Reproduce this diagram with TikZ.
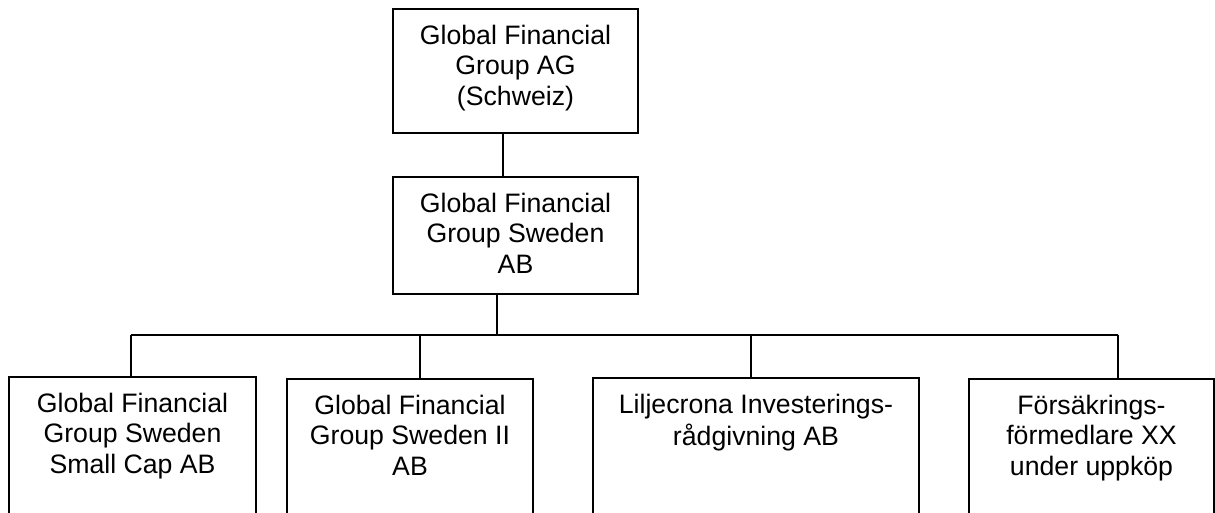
\documentclass[tikz,border=0pt]{standalone}
\usepackage{fontspec}
\setmainfont{Liberation Sans}
\begin{document}
\begin{tikzpicture}[x=0.75pt,y=-0.75pt,
  orgbox/.style={draw=black,line width=0.8pt,rectangle,inner sep=0pt,fill=none},
  lbl/.style={anchor=north,inner sep=0pt,align=center,font=\fontsize{20}{23}\selectfont},
  conn/.style={draw=black,line width=1.6pt}]
\clip (0,0) rectangle (1215,513);
% boxes
\node[orgbox,minimum width=183.75pt,minimum height=93pt] (top) at (515.5,71) {};
\node[orgbox,minimum width=183.75pt,minimum height=87.75pt] (mid) at (515.5,235.5) {};
\node[orgbox,minimum width=185.25pt,minimum height=114.75pt] (b1) at (132.5,453.5) {};
\node[orgbox,minimum width=184.5pt,minimum height=113.25pt] (b2) at (410,454.5) {};
\node[orgbox,minimum width=244.5pt,minimum height=114pt] (b3) at (756,454) {};
\node[orgbox,minimum width=183.75pt,minimum height=113.25pt] (b4) at (1091.5,454.5) {};
% labels
\node[lbl] (t0) at ([yshift=-10.5pt]top.north) {\strut Global Financial\\Group AG\\(Schweiz)};
\node[lbl] (tm) at ([yshift=-10.5pt]mid.north) {\strut Global Financial\\Group Sweden\\AB};
\node[lbl] (t1) at ([yshift=-10.5pt]b1.north) {\strut Global Financial\\Group Sweden\\Small Cap AB};
\node[lbl] (t2) at ([yshift=-10.5pt]b2.north) {\strut Global Financial\\Group Sweden II\\AB};
\node[lbl] (t3) at ([yshift=-10.5pt]b3.north) {\strut Liljecrona Investerings-\\rådgivning AB};
\node[lbl] (t4) at ([yshift=-10.5pt]b4.north) {\strut Försäkrings-\\förmedlare XX\\under uppköp};
% connector coordinates
\coordinate (xa) at (503,0);
\coordinate (xb) at (497,335);
\coordinate (d1) at (131,335);
\coordinate (d2) at (420,335);
\coordinate (d3) at (751,335);
\coordinate (d4) at (1118,335);
% connectors
\draw[conn] (top.south -| xa) -- (mid.north -| xa);
\draw[conn] (mid.south -| xb) -- (xb);
\draw[conn] (d1) -- (d4);
\draw[conn] (d1) -- (d1 |- b1.north);
\draw[conn] (d2) -- (d2 |- b2.north);
\draw[conn] (d3) -- (d3 |- b3.north);
\draw[conn] (d4) -- (d4 |- b4.north);
\end{tikzpicture}
\end{document}
